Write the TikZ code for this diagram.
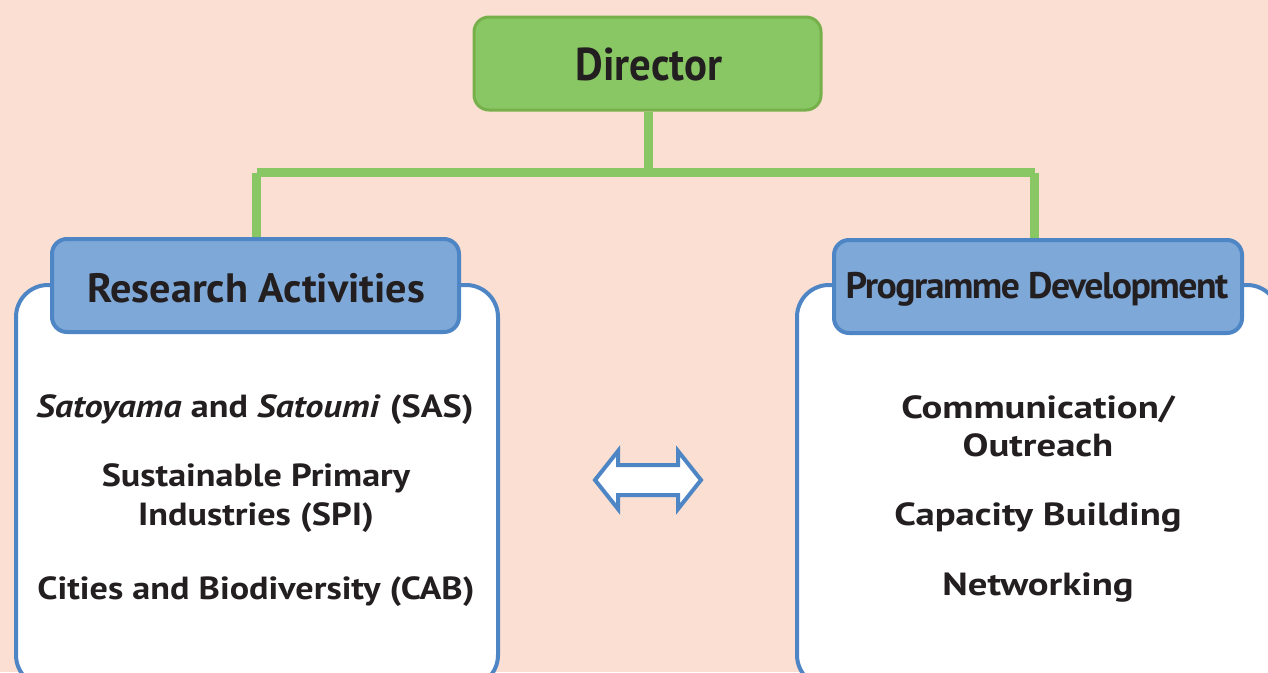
\documentclass[tikz,border=0pt]{standalone}
\usepackage{fontspec}
\setmainfont{PT Sans}
\newfontfamily\itemfont{PT Sans}[FakeStretch=1.13]
\newfontfamily\itemfontr{PT Sans}[FakeStretch=1.21]
\newfontfamily\rafont{PT Sans}[FakeStretch=1.03]
\newfontfamily\pdfont{PT Sans}[FakeStretch=1.02]
\newfontfamily\dirfont{PT Sans}[FakeStretch=0.93]
\definecolor{bgc}{HTML}{FADFD2}
\definecolor{grfill}{HTML}{88C764}
\definecolor{grline}{HTML}{77B04A}
\definecolor{blfill}{HTML}{7EA8D8}
\definecolor{blline}{HTML}{4E85C5}
\definecolor{txt}{HTML}{231F20}
\tikzset{
  panel/.style={draw=blline, line width=4pt, fill=white, rounded corners=32pt},
  header/.style={draw=blline, line width=4pt, fill=blfill, rounded corners=15pt},
  dirbox/.style={draw=grline, line width=3pt, fill=grfill, rounded corners=15pt},
  conn/.style={draw=grfill, line width=9pt},
  item/.style={anchor=base, text=txt, inner sep=0pt, font=\itemfont\fontsize{32}{38}\selectfont\bfseries},
  itemr/.style={anchor=base, text=txt, inner sep=0pt, font=\itemfontr\fontsize{32}{38}\selectfont\bfseries},
  headtxt/.style={anchor=base, text=txt, inner sep=0pt},
  dblarrow/.style={draw=blline, line width=4pt, fill=white, line join=miter}
}
\begin{document}
\begin{tikzpicture}[x=1pt,y=-1pt]
\useasboundingbox (0,0) rectangle (1268,672);
\fill[bgc] (0,0) rectangle (1268,672);
% panels
\draw[panel] (16,285) rectangle (498,687);
\draw[panel] (797,285) rectangle (1279,687);
% connectors
\coordinate (jl) at (256.5,172.5);
\coordinate (jm) at (648.5,172.5);
\coordinate (jr) at (1034.5,172.5);
% director
\node[dirbox, minimum width=347pt, minimum height=93pt] (dir) at (647.5,63.5) {};
\node[headtxt, font=\dirfont\fontsize{46}{50}\selectfont\bfseries] (dirt) at (649,80) {Director};
% headers
\draw[conn] (jm |- dir.south) -- (jm);
\draw[conn] (jl) -- (jr);
\node[header, minimum width=407pt, minimum height=93pt] (ra) at (255.5,285.5) {};
\node[header, minimum width=408pt, minimum height=93pt] (pd) at (1038,286.5) {};
\draw[conn] (jl) -- (jl |- ra.north);
\draw[conn] (jr) -- (jr |- pd.north);
\draw[conn] (jm) -- (jl);
\node[headtxt, font=\rafont\fontsize{41}{46}\selectfont\bfseries] (rat) at (256,302) {Research Activities};
\node[headtxt, font=\pdfont\fontsize{37}{42}\selectfont\bfseries] (pdt) at (1037,298) {\addfontfeature{LetterSpace=-4}Programme Development};
% left items
\node[item] (sas) at (255,417) {\textit{Satoyama} and \textit{Satoumi} (SAS)};
\node[item] (spi1) at (256,486) {Sustainable Primary};
\node[item] (spi2) at (256,525) {Industries (SPI)};
\node[item] (cab) at (256,599) {Cities and Biodiversity (CAB)};
% right items
\node[itemr] (com1) at (1038,418) {Communication/};
\node[itemr] (com2) at (1038,456) {Outreach};
\node[itemr] (cap) at (1038,525) {Capacity Building};
\node[itemr] (net) at (1038,595) {Networking};
% double arrow
\draw[dblarrow] (595,480) coordinate (al) -- (618,451) -- (618,465) -- (678,465) -- (678,451) -- (701,480) coordinate (ar) -- (678,509) -- (678,495) -- (618,495) -- (618,509) -- cycle;
\end{tikzpicture}
\end{document}
